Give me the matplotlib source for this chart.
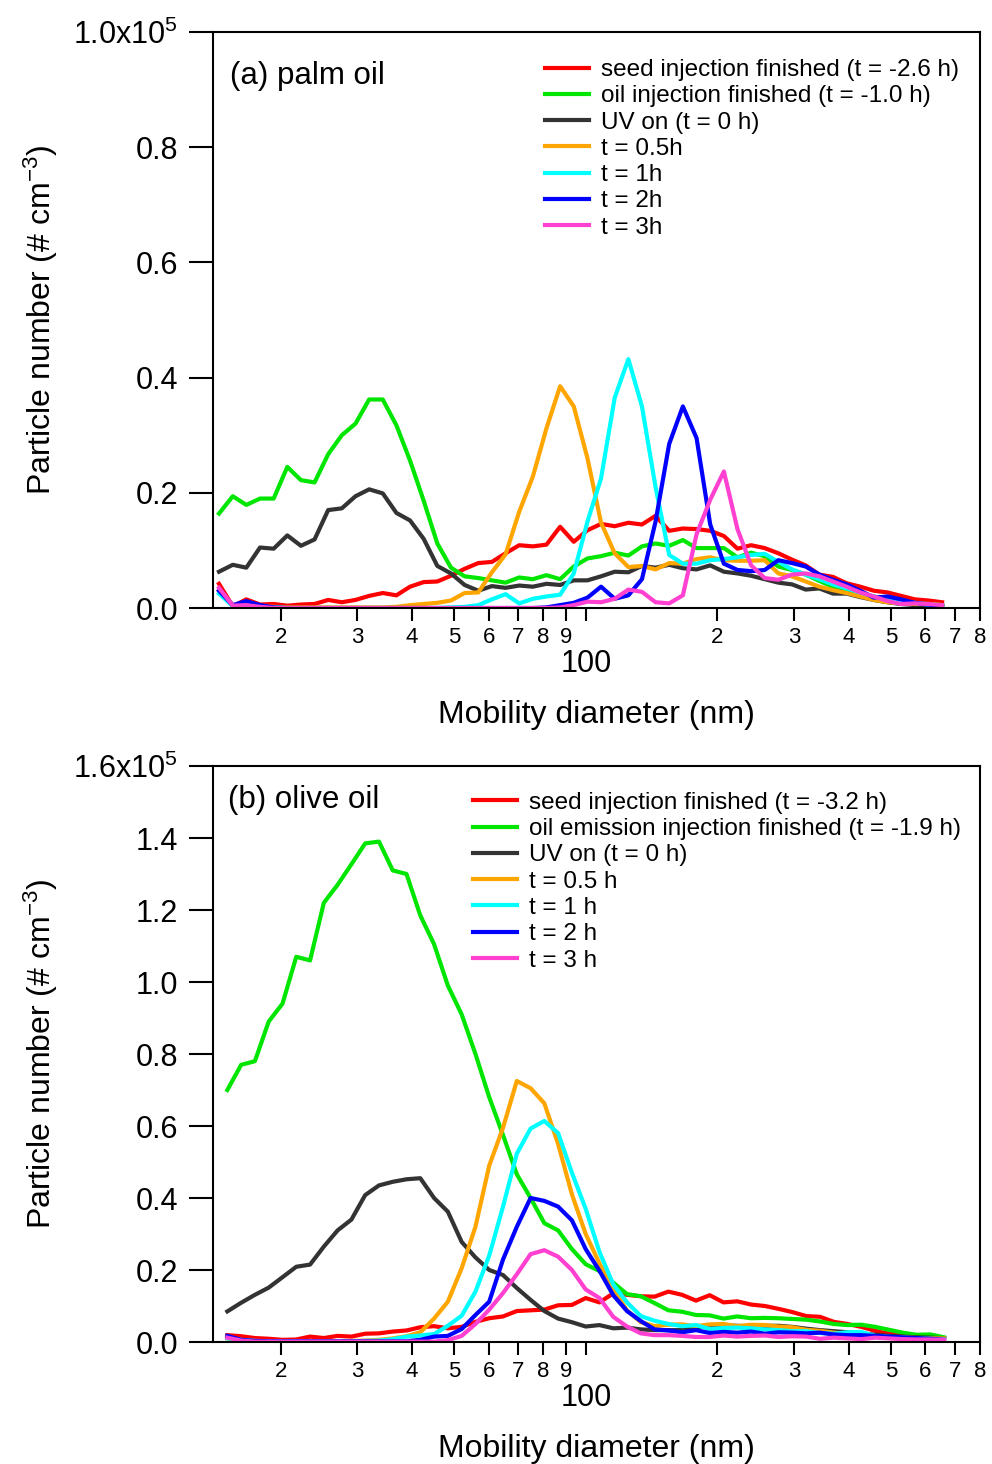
import math
import matplotlib
matplotlib.use("Agg")
import matplotlib.pyplot as plt
from matplotlib.ticker import FixedLocator, FixedFormatter, FuncFormatter

plt.rcParams['font.family'] = ['Liberation Sans', 'DejaVu Sans']
plt.rcParams['mathtext.fontset'] = 'custom'
plt.rcParams['mathtext.rm'] = 'Liberation Sans'
plt.rcParams['mathtext.it'] = 'Liberation Sans:italic'
plt.rcParams['mathtext.bf'] = 'Liberation Sans:bold'

# ---------------- data (number concentration in units of 1e5 # cm^-3) ----------------
diam_a = [14.45, 15.54, 16.69, 17.94, 19.28, 20.72, 22.26, 23.92, 25.70, 27.62,
          29.68, 31.90, 34.28, 36.84, 39.58, 42.54, 45.71, 49.12, 52.78, 56.72,
          60.95, 65.50, 70.39, 75.64, 81.28, 87.35, 93.87, 100.9, 108.4, 116.5,
          125.2, 134.5, 144.5, 155.3, 166.9, 179.4, 192.8, 207.2, 222.6, 239.2,
          257.0, 276.2, 296.8, 319.0, 342.8, 368.4, 395.8, 425.4, 457.1, 491.2,
          527.8, 567.2, 609.5, 655.0]

palm_seed = [0.042, 0.003, 0.015, 0.006, 0.007, 0.004, 0.006, 0.007, 0.014, 0.010,
             0.014, 0.021, 0.026, 0.022, 0.037, 0.045, 0.046, 0.056, 0.068, 0.078,
             0.080, 0.095, 0.109, 0.107, 0.110, 0.141, 0.115, 0.135, 0.146, 0.142,
             0.148, 0.145, 0.160, 0.134, 0.138, 0.137, 0.134, 0.125, 0.103, 0.109,
             0.104, 0.095, 0.084, 0.074, 0.058, 0.054, 0.043, 0.037, 0.030, 0.027,
             0.021, 0.015, 0.013, 0.010]
palm_oil = [0.164, 0.194, 0.179, 0.190, 0.190, 0.245, 0.222, 0.218, 0.267, 0.300,
            0.320, 0.362, 0.362, 0.317, 0.256, 0.186, 0.112, 0.070, 0.055, 0.052,
            0.048, 0.044, 0.053, 0.050, 0.057, 0.050, 0.072, 0.086, 0.090, 0.096,
            0.091, 0.107, 0.112, 0.108, 0.118, 0.104, 0.104, 0.104, 0.088, 0.096,
            0.090, 0.072, 0.066, 0.058, 0.047, 0.037, 0.031, 0.025, 0.020, 0.013,
            0.010, 0.008, 0.007, 0.005]
palm_uv = [0.063, 0.075, 0.070, 0.105, 0.103, 0.126, 0.108, 0.119, 0.170, 0.173,
           0.194, 0.206, 0.199, 0.165, 0.152, 0.120, 0.073, 0.060, 0.040, 0.030,
           0.038, 0.035, 0.039, 0.037, 0.042, 0.040, 0.048, 0.048, 0.055, 0.063,
           0.062, 0.073, 0.070, 0.075, 0.069, 0.067, 0.074, 0.063, 0.060, 0.056,
           0.050, 0.044, 0.041, 0.032, 0.034, 0.025, 0.025, 0.019, 0.014, 0.010,
           0.007, 0.005, 0.004, 0.003]
palm_05h = [0.030, 0.005, 0.008, 0.003, 0.002, 0.001, 0.001, 0.001, 0.001, 0.001,
            0.001, 0.001, 0.001, 0.002, 0.005, 0.007, 0.009, 0.013, 0.026, 0.027,
            0.062, 0.093, 0.167, 0.228, 0.312, 0.385, 0.350, 0.260, 0.148, 0.095,
            0.071, 0.073, 0.067, 0.078, 0.077, 0.085, 0.088, 0.083, 0.082, 0.082,
            0.083, 0.060, 0.055, 0.046, 0.037, 0.031, 0.026, 0.020, 0.014, 0.010,
            0.008, 0.007, 0.007, 0.005]
palm_1h = [0.025, 0.003, 0.005, 0.003, 0.001, 0.000, 0.000, 0.000, 0.000, 0.000,
           0.000, 0.000, 0.000, 0.000, 0.000, 0.000, 0.000, 0.001, 0.002, 0.005,
           0.015, 0.024, 0.008, 0.016, 0.020, 0.023, 0.060, 0.150, 0.225, 0.365,
           0.432, 0.350, 0.210, 0.092, 0.077, 0.077, 0.083, 0.085, 0.088, 0.092,
           0.094, 0.080, 0.067, 0.058, 0.050, 0.041, 0.034, 0.027, 0.020, 0.015,
           0.011, 0.009, 0.006, 0.004]
palm_2h = [0.030, 0.005, 0.012, 0.005, 0.001, 0.000, 0.000, 0.000, 0.000, 0.000,
           0.000, 0.000, 0.000, 0.000, 0.000, 0.000, 0.000, 0.000, 0.000, 0.000,
           0.000, 0.000, 0.000, 0.000, 0.001, 0.005, 0.009, 0.018, 0.037, 0.016,
           0.022, 0.050, 0.150, 0.285, 0.350, 0.295, 0.145, 0.077, 0.066, 0.064,
           0.066, 0.083, 0.078, 0.072, 0.058, 0.049, 0.041, 0.030, 0.018, 0.020,
           0.015, 0.009, 0.006, 0.003]
palm_3h = [0.035, 0.004, 0.005, 0.002, 0.000, 0.000, 0.000, 0.000, 0.000, 0.000,
           0.000, 0.000, 0.000, 0.000, 0.000, 0.000, 0.000, 0.000, 0.000, 0.000,
           0.000, 0.000, 0.000, 0.000, 0.000, 0.001, 0.005, 0.011, 0.010, 0.016,
           0.032, 0.028, 0.010, 0.008, 0.022, 0.128, 0.188, 0.237, 0.137, 0.074,
           0.052, 0.049, 0.058, 0.060, 0.055, 0.046, 0.037, 0.027, 0.020, 0.012,
           0.007, 0.008, 0.007, 0.005]

diam_b = [15.10, 16.24, 17.46, 18.78, 20.20, 21.72, 23.36, 25.12, 27.01, 29.05,
          31.24, 33.60, 36.13, 38.85, 41.78, 44.93, 48.32, 51.97, 55.89, 60.10,
          64.63, 69.51, 74.75, 80.38, 86.44, 92.96, 99.97, 107.5, 115.6, 124.3,
          133.7, 143.8, 154.6, 166.3, 178.8, 192.3, 206.8, 222.4, 239.2, 257.2,
          276.6, 297.5, 319.9, 344.0, 370.0, 397.9, 427.9, 460.1, 494.8, 532.1,
          572.3, 615.4, 661.8]

olive_seed = [0.019, 0.016, 0.011, 0.009, 0.006, 0.007, 0.015, 0.011, 0.017, 0.015,
              0.023, 0.024, 0.029, 0.032, 0.041, 0.044, 0.038, 0.042, 0.056, 0.066,
              0.071, 0.086, 0.088, 0.090, 0.102, 0.103, 0.122, 0.110, 0.135, 0.131,
              0.127, 0.126, 0.140, 0.131, 0.115, 0.130, 0.110, 0.113, 0.104, 0.100,
              0.092, 0.083, 0.072, 0.070, 0.056, 0.050, 0.042, 0.031, 0.023, 0.019,
              0.016, 0.015, 0.010]
olive_oil = [0.700, 0.770, 0.780, 0.890, 0.940, 1.070, 1.060, 1.220, 1.270, 1.327,
             1.385, 1.390, 1.310, 1.300, 1.185, 1.105, 0.990, 0.910, 0.800, 0.680,
             0.575, 0.466, 0.400, 0.330, 0.310, 0.258, 0.216, 0.197, 0.165, 0.133,
             0.127, 0.108, 0.088, 0.084, 0.075, 0.074, 0.065, 0.071, 0.066, 0.067,
             0.066, 0.064, 0.062, 0.057, 0.050, 0.047, 0.048, 0.042, 0.034, 0.026,
             0.020, 0.021, 0.013]
olive_uv = [0.085, 0.109, 0.131, 0.151, 0.180, 0.209, 0.215, 0.265, 0.310, 0.340,
            0.408, 0.435, 0.445, 0.452, 0.455, 0.400, 0.362, 0.278, 0.235, 0.200,
            0.186, 0.150, 0.117, 0.086, 0.065, 0.055, 0.043, 0.047, 0.038, 0.040,
            0.035, 0.033, 0.033, 0.033, 0.040, 0.047, 0.046, 0.045, 0.043, 0.045,
            0.045, 0.042, 0.037, 0.033, 0.030, 0.027, 0.024, 0.020, 0.017, 0.015,
            0.013, 0.012, 0.010]
olive_05h = [0.010, 0.005, 0.003, 0.002, 0.002, 0.002, 0.002, 0.002, 0.002, 0.003,
             0.004, 0.006, 0.010, 0.016, 0.027, 0.065, 0.112, 0.205, 0.320, 0.490,
             0.595, 0.725, 0.705, 0.663, 0.550, 0.410, 0.300, 0.218, 0.146, 0.088,
             0.055, 0.044, 0.048, 0.049, 0.044, 0.049, 0.050, 0.044, 0.048, 0.047,
             0.043, 0.041, 0.034, 0.031, 0.026, 0.022, 0.019, 0.016, 0.014, 0.013,
             0.011, 0.010, 0.010]
olive_1h = [0.010, 0.006, 0.003, 0.002, 0.002, 0.002, 0.002, 0.002, 0.002, 0.002,
            0.003, 0.004, 0.008, 0.015, 0.018, 0.022, 0.045, 0.073, 0.140, 0.240,
            0.376, 0.523, 0.593, 0.614, 0.580, 0.470, 0.370, 0.250, 0.160, 0.110,
            0.072, 0.059, 0.050, 0.044, 0.047, 0.036, 0.039, 0.040, 0.038, 0.035,
            0.033, 0.030, 0.030, 0.025, 0.023, 0.027, 0.028, 0.017, 0.014, 0.012,
            0.010, 0.009, 0.007]
olive_2h = [0.017, 0.006, 0.003, 0.002, 0.002, 0.002, 0.002, 0.002, 0.002, 0.002,
            0.002, 0.002, 0.002, 0.002, 0.006, 0.015, 0.017, 0.036, 0.075, 0.112,
            0.229, 0.320, 0.400, 0.392, 0.376, 0.338, 0.258, 0.198, 0.130, 0.086,
            0.058, 0.035, 0.032, 0.027, 0.033, 0.025, 0.028, 0.026, 0.029, 0.023,
            0.027, 0.026, 0.024, 0.026, 0.021, 0.019, 0.019, 0.017, 0.015, 0.013,
            0.011, 0.009, 0.006]
olive_3h = [0.012, 0.004, 0.001, 0.001, 0.001, 0.001, 0.001, 0.001, 0.001, 0.001,
            0.001, 0.001, 0.001, 0.001, 0.001, 0.001, 0.005, 0.017, 0.050, 0.090,
            0.136, 0.188, 0.244, 0.255, 0.237, 0.200, 0.146, 0.122, 0.070, 0.043,
            0.024, 0.019, 0.019, 0.017, 0.014, 0.014, 0.018, 0.015, 0.017, 0.018,
            0.014, 0.016, 0.015, 0.009, 0.012, 0.010, 0.008, 0.012, 0.010, 0.008,
            0.007, 0.007, 0.006]

labels_a = ["seed injection finished (t = -2.6 h)", "oil injection finished (t = -1.0 h)",
            "UV on (t = 0 h)", "t = 0.5h", "t = 1h", "t = 2h", "t = 3h"]
labels_b = ["seed injection finished (t = -3.2 h)", "oil emission injection finished (t = -1.9 h)",
            "UV on (t = 0 h)", "t = 0.5 h", "t = 1 h", "t = 2 h", "t = 3 h"]
colors = ["#ff0000", "#00e600", "#333333", "#ffa500", "#00ffff", "#0000ff", "#ff40d0"]

yticks_a = [0.0, 0.2, 0.4, 0.6, 0.8, 1.0]
yticklabels_a = ["0.0", "0.2", "0.4", "0.6", "0.8", "1.0x10$^{5}$"]
yticks_b = [0.0, 0.2, 0.4, 0.6, 0.8, 1.0, 1.2, 1.4, 1.6]
yticklabels_b = ["0.0", "0.2", "0.4", "0.6", "0.8", "1.0", "1.2", "1.4", "1.6x10$^{5}$"]
x_major = [100]
x_minor = [20, 30, 40, 50, 60, 70, 80, 90, 200, 300, 400, 500, 600, 700, 800]

# ---------------- figure ----------------
W, H = 992, 1464
fig = plt.figure(figsize=(W / 100, H / 100), dpi=100)
ax_a = fig.add_axes([213 / W, 1 - 608 / H, 767 / W, 576 / H])
ax_b = fig.add_axes([213 / W, 1 - 1342 / H, 767 / W, 576 / H])

def minor_fmt(v, pos):
    return str(int(round(v / 10 ** math.floor(math.log10(v) + 1e-9))))

def style(ax, yticks, yticklabels, ymax):
    ax.set_xscale('log')
    ax.set_xlim(14, 800)
    ax.set_ylim(0, ymax)
    ax.xaxis.set_major_locator(FixedLocator(x_major))
    ax.xaxis.set_major_formatter(FixedFormatter(["100"]))
    ax.xaxis.set_minor_locator(FixedLocator(x_minor))
    ax.xaxis.set_minor_formatter(FuncFormatter(minor_fmt))
    ax.yaxis.set_major_locator(FixedLocator(yticks))
    ax.yaxis.set_major_formatter(FixedFormatter(yticklabels))
    ax.yaxis.set_minor_locator(FixedLocator([]))
    for s in ax.spines.values():
        s.set_linewidth(1.5)
    ax.tick_params(axis='x', which='both', direction='out', length=9.5, width=1.5, top=False)
    ax.tick_params(axis='x', which='minor', labelsize=16, pad=4)
    ax.tick_params(axis='x', which='major', labelsize=22, pad=20)
    ax.tick_params(axis='y', which='major', direction='out', length=17, width=1.5,
                   labelsize=22, pad=8, right=False)
    ax.set_xlabel("Mobility diameter (nm)", fontsize=23)
    ax.xaxis.set_label_coords(0.5, -0.159)
    ax.xaxis.label.set_va('top')
    ax.set_ylabel("Particle number (# cm$^{-3}$)", fontsize=23)
    ax.yaxis.set_label_coords(-0.2, 0.5)

series_a = [palm_seed, palm_oil, palm_uv, palm_05h, palm_1h, palm_2h, palm_3h]
series_b = [olive_seed, olive_oil, olive_uv, olive_05h, olive_1h, olive_2h, olive_3h]

for ax, xs, series, labels in [(ax_a, diam_a, series_a, labels_a), (ax_b, diam_b, series_b, labels_b)]:
    for ys, c, lab in zip(series, colors, labels):
        ax.plot(xs, ys, color=c, lw=3.0, label=lab)

style(ax_a, yticks_a, yticklabels_a, 1.0)
style(ax_b, yticks_b, yticklabels_b, 1.6)

ax_a.text(0.022, 0.924, "(a) palm oil", transform=ax_a.transAxes, fontsize=22.5,
          ha='left', va='center')
ax_b.text(0.02, 0.941, "(b) olive oil", transform=ax_b.transAxes, fontsize=22.5,
          ha='left', va='center')

leg_kw = dict(loc='upper left', frameon=False, fontsize=17.5, handlelength=1.8,
              handletextpad=0.5, labelspacing=0.175, borderpad=0, borderaxespad=0)
ax_a.legend(bbox_to_anchor=(0.433, 0.953), **leg_kw)
ax_b.legend(bbox_to_anchor=(0.339, 0.955), **leg_kw)

fig.savefig("out.png", dpi=100)
